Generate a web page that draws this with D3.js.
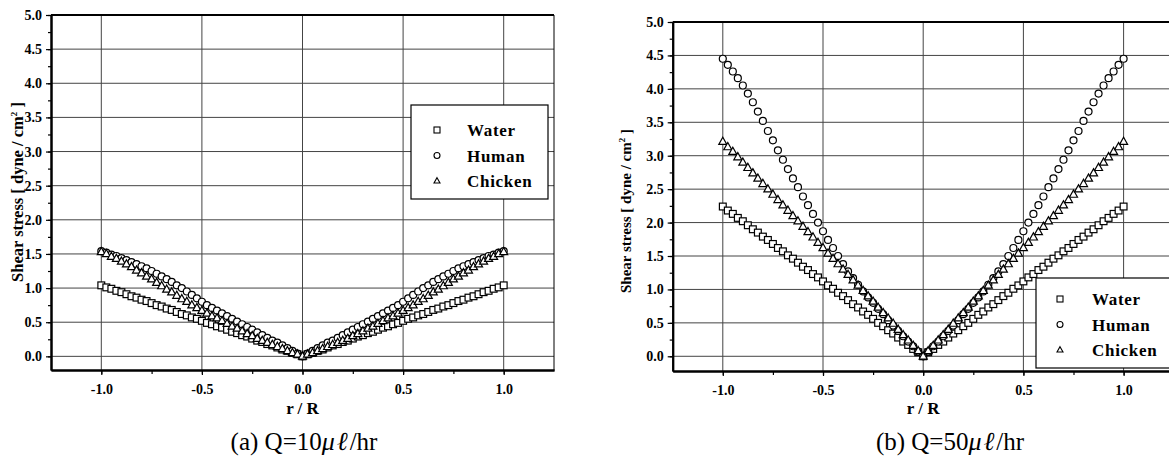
<!DOCTYPE html>
<html>
<head>
<meta charset="utf-8">
<script src="https://cdn.jsdelivr.net/npm/d3@7"></script>
<style>
  body { margin: 0; background: #fff; }
  svg { display: block; }
  text { font-family: "Liberation Serif", "Times New Roman", serif; fill: #000; }
</style>
</head>
<body>
<script>
// ---------------- DATA ----------------
// radial position |r/R| for one half of the profile (profiles are mirrored about r = 0)
const rHalf = [0, 0.025, 0.05, 0.075, 0.1, 0.125, 0.15, 0.175, 0.2, 0.225, 0.25, 0.275, 0.3, 0.325, 0.35, 0.375,
  0.4, 0.425, 0.45, 0.475, 0.5, 0.525, 0.55, 0.575, 0.6, 0.625, 0.65, 0.675, 0.7, 0.725, 0.75, 0.775,
  0.8, 0.825, 0.85, 0.875, 0.9, 0.925, 0.95, 0.975, 1.0];

const seriesNames = ["Water", "Human", "Chicken"];
const seriesSymbols = ["square", "circle", "triangle"];

// (a) Q = 10 µl/hr  — shear stress [dyne/cm²]
const water10 = [0, 0.03, 0.05, 0.08, 0.10, 0.13, 0.16, 0.18, 0.21, 0.23, 0.26, 0.29, 0.31, 0.34, 0.36, 0.39,
  0.42, 0.44, 0.47, 0.49, 0.52, 0.55, 0.57, 0.60, 0.62, 0.65, 0.68, 0.70, 0.73, 0.75, 0.78, 0.81,
  0.83, 0.86, 0.88, 0.91, 0.94, 0.96, 0.99, 1.01, 1.04];
const human10 = [0, 0.04, 0.08, 0.12, 0.16, 0.20, 0.23, 0.27, 0.31, 0.35, 0.39, 0.43, 0.47, 0.51, 0.55, 0.59,
  0.63, 0.67, 0.71, 0.75, 0.80, 0.85, 0.90, 0.95, 1.00, 1.04, 1.09, 1.13, 1.17, 1.21, 1.25, 1.29,
  1.32, 1.35, 1.38, 1.41, 1.44, 1.47, 1.49, 1.52, 1.54];
const chicken10 = [0, 0.03, 0.05, 0.08, 0.11, 0.14, 0.17, 0.20, 0.23, 0.26, 0.30, 0.33, 0.37, 0.41, 0.44, 0.48,
  0.52, 0.56, 0.59, 0.63, 0.67, 0.71, 0.75, 0.80, 0.84, 0.89, 0.94, 0.98, 1.03, 1.08, 1.13, 1.17,
  1.22, 1.26, 1.31, 1.35, 1.39, 1.43, 1.46, 1.50, 1.53];

// (b) Q = 50 µl/hr
const water50 = [0, 0.06, 0.11, 0.17, 0.22, 0.28, 0.34, 0.39, 0.45, 0.50, 0.56, 0.62, 0.67, 0.73, 0.78, 0.84,
  0.90, 0.95, 1.01, 1.06, 1.12, 1.18, 1.23, 1.29, 1.34, 1.40, 1.46, 1.51, 1.57, 1.62, 1.68, 1.74,
  1.79, 1.85, 1.90, 1.96, 2.02, 2.07, 2.13, 2.18, 2.24];
const human50 = [0, 0.07, 0.15, 0.22, 0.30, 0.38, 0.46, 0.54, 0.63, 0.71, 0.80, 0.88, 0.97, 1.07, 1.17, 1.27,
  1.38, 1.50, 1.62, 1.74, 1.87, 2.00, 2.13, 2.26, 2.39, 2.53, 2.66, 2.80, 2.94, 3.08, 3.23, 3.37,
  3.52, 3.66, 3.80, 3.93, 4.05, 4.16, 4.26, 4.36, 4.45];
const chicken50 = [0, 0.08, 0.16, 0.24, 0.32, 0.40, 0.49, 0.57, 0.65, 0.73, 0.82, 0.90, 0.98, 1.06, 1.14, 1.22,
  1.30, 1.38, 1.46, 1.54, 1.62, 1.70, 1.78, 1.86, 1.94, 2.02, 2.10, 2.18, 2.26, 2.34, 2.42, 2.50,
  2.58, 2.66, 2.74, 2.82, 2.90, 2.98, 3.06, 3.13, 3.21];

// axis ticks
const xMajorTicks = [-1.0, -0.5, 0.0, 0.5, 1.0];
const xMinorTicks = [-1.0, -0.75, -0.5, -0.25, 0.0, 0.25, 0.5, 0.75, 1.0];
const yMajorTicks = [0.0, 0.5, 1.0, 1.5, 2.0, 2.5, 3.0, 3.5, 4.0, 4.5, 5.0];
const yMinorTicks = [0, 0.25, 0.5, 0.75, 1.0, 1.25, 1.5, 1.75, 2.0, 2.25, 2.5, 2.75, 3.0, 3.25, 3.5, 3.75, 4.0, 4.25, 4.5, 4.75, 5.0];

const captions = [["(a) Q=10", "μℓ", "/hr"], ["(b) Q=50", "μℓ", "/hr"]];

// ---------------- DRAW ----------------
const W = 1169, H = 460;
const svg = d3.select("body").append("svg").attr("width", W).attr("height", H);
svg.append("rect").attr("width", W).attr("height", H).attr("fill", "#fff");

const fmt = d => d.toFixed(1);

function mirror(vals) {
  const pts = [];
  for (let i = rHalf.length - 1; i >= 1; i--) pts.push([-rHalf[i], vals[i]]);
  for (let i = 0; i < rHalf.length; i++) pts.push([rHalf[i], vals[i]]);
  return pts;
}

function symbolPath(g, type, size) {
  if (type === "square") {
    return g.append("rect").attr("x", -size / 2).attr("y", -size / 2).attr("width", size).attr("height", size);
  } else if (type === "circle") {
    return g.append("circle").attr("r", size / 2);
  } else {
    const h = size * 0.9;
    return g.append("path").attr("d", `M0,${-h * 0.62}L${size / 2},${h * 0.38}L${-size / 2},${h * 0.38}Z`);
  }
}

const panels = [
  { x0: 51, x1: 554, y0: 15, y1: 370, yDom: [-0.2, 5],
    data: [water10, human10, chicken10],
    legend: { x: 411, y: 105, w: 137, h: 94, symX: 26, txtX: 56, row0: 25, dy: 25.5 },
    ylab: { x: 23, y: 192, fs: 16.5 }, cap: { x: 304, y: 450 } },
  { x0: 672.7, x1: 1173.7, y0: 22, y1: 371, yDom: [-0.22, 5],
    data: [water50, human50, chicken50],
    legend: { x: 1036, y: 278, w: 150, h: 90, symX: 24, txtX: 56, row0: 21, dy: 25.5 },
    ylab: { x: 631, y: 211, fs: 15 }, cap: { x: 950, y: 450 } }
];

panels.forEach((p, pi) => {
  const x = d3.scaleLinear().domain([-1.25, 1.25]).range([p.x0, p.x1]);
  const y = d3.scaleLinear().domain(p.yDom).range([p.y1, p.y0]);
  const g = svg.append("g");

  // grid
  const grid = g.append("g").attr("stroke", "#444").attr("stroke-width", 1);
  xMajorTicks.forEach(t => grid.append("line").attr("x1", x(t)).attr("x2", x(t)).attr("y1", p.y0).attr("y2", p.y1));
  yMajorTicks.filter(t => t < 5).forEach(t => grid.append("line").attr("x1", p.x0).attr("x2", p.x1).attr("y1", y(t)).attr("y2", y(t)));

  // frame: top (thick) and right
  g.append("line").attr("x1", p.x0).attr("x2", p.x1).attr("y1", p.y0).attr("y2", p.y0).attr("stroke", "#000").attr("stroke-width", 2);
  g.append("line").attr("x1", p.x1).attr("x2", p.x1).attr("y1", p.y0).attr("y2", p.y1).attr("stroke", "#000").attr("stroke-width", 1);

  // data markers
  const sizes = { square: 6.8, circle: 7, triangle: 8 };
  p.data.forEach((vals, si) => {
    const type = seriesSymbols[si];
    const sg = g.append("g");
    mirror(vals).forEach(([r, v]) => {
      const mg = sg.append("g").attr("transform", `translate(${x(r)},${y(v)})`);
      symbolPath(mg, type, sizes[type]).attr("fill", "#fff").attr("stroke", "#000").attr("stroke-width", 1.2);
    });
  });

  // axes
  const xAxis = d3.axisBottom(x).tickValues(xMajorTicks).tickSize(5).tickSizeOuter(0).tickFormat(fmt).tickPadding(9);
  const xMinor = d3.axisBottom(x).tickValues(xMinorTicks).tickSize(4).tickSizeOuter(0).tickFormat("");
  const yAxis = d3.axisLeft(y).tickValues(yMajorTicks).tickSize(5).tickSizeOuter(0).tickFormat(fmt).tickPadding(4);
  const yMinor = d3.axisLeft(y).tickValues(yMinorTicks).tickSize(3).tickSizeOuter(0).tickFormat("");

  [xMinor, xAxis].forEach(ax => {
    const a = g.append("g").attr("transform", `translate(0,${p.y1})`).call(ax);
    a.select(".domain").attr("stroke", "#000").attr("stroke-width", 2);
    a.selectAll(".tick line").attr("stroke", "#000").attr("stroke-width", 1.2);
    a.selectAll("text").attr("font-weight", "bold").attr("font-size", 14);
  });
  [yMinor, yAxis].forEach(ax => {
    const a = g.append("g").attr("transform", `translate(${p.x0},0)`).call(ax);
    a.select(".domain").attr("stroke", "#000").attr("stroke-width", 2);
    a.selectAll(".tick line").attr("stroke", "#000").attr("stroke-width", 1.2);
    a.selectAll("text").attr("font-weight", "bold").attr("font-size", 14);
  });

  // x title
  g.append("text").attr("x", x(0)).attr("y", 414).attr("text-anchor", "middle")
    .attr("font-weight", "bold").attr("font-size", 17).text("r / R");

  // y title
  const yt = g.append("text").attr("transform", `translate(${p.ylab.x},${p.ylab.y}) rotate(-90)`)
    .attr("text-anchor", "middle").attr("font-weight", "bold").attr("font-size", p.ylab.fs);
  yt.append("tspan").text("Shear stress [ dyne / cm");
  yt.append("tspan").attr("font-size", 9).attr("dy", -6).text("2");
  yt.append("tspan").attr("dy", 6).text(" ]");

  // legend
  const L = p.legend;
  const lg = g.append("g").attr("transform", `translate(${L.x},${L.y})`);
  lg.append("rect").attr("width", L.w).attr("height", L.h).attr("fill", "#fff").attr("stroke", "#000").attr("stroke-width", 1.2);
  seriesNames.forEach((name, i) => {
    const cy = L.row0 + i * L.dy;
    const sg = lg.append("g").attr("transform", `translate(${L.symX},${cy})`);
    symbolPath(sg, seriesSymbols[i], 6).attr("fill", "#fff").attr("stroke", "#000").attr("stroke-width", 1.1);
    lg.append("text").attr("x", L.txtX).attr("y", cy + 6).attr("font-weight", "bold").attr("font-size", 17)
      .attr("letter-spacing", 0.7).text(name);
  });

  // caption
  const c = captions[pi];
  const ct = svg.append("text").attr("x", p.cap.x).attr("y", p.cap.y).attr("font-size", 25).attr("text-anchor", "middle");
  ct.append("tspan").text(c[0]);
  ct.append("tspan").attr("font-style", "italic").attr("letter-spacing", 2).attr("font-size", 26).text(c[1]);
  ct.append("tspan").text(c[2]);
});
</script>
</body>
</html>
